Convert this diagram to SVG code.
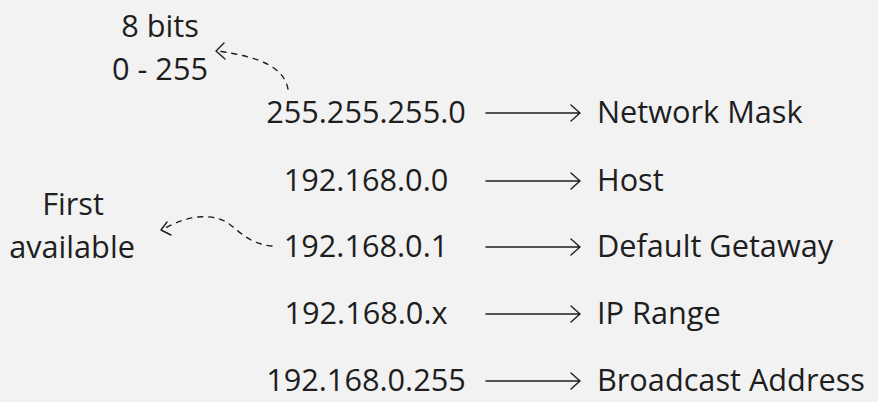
<svg xmlns="http://www.w3.org/2000/svg" width="878" height="402" viewBox="0 0 878 402">
<style>
text{font-family:"Open Sans","Noto Sans",sans-serif;font-size:30.7px;fill:#1e1e1e;dominant-baseline:central}
.l{text-anchor:middle}
.conn path{fill:none;stroke:#1e1e1e;stroke-width:1.4;stroke-linecap:round;stroke-linejoin:round}
.conn .d{stroke-dasharray:5 6}
</style>
<rect width="878" height="402" fill="#f2f2f2"/>
<g id="note-bits"><text class="l" x="160" y="25">8 bits</text><text class="l" x="160" y="68">0 - 255</text></g>
<g id="note-first"><text class="l" x="73" y="203">First</text><text class="l" x="72" y="246">available</text></g>
<g id="n1"><text class="l" x="366" y="111">255.255.255.0</text><text x="597" y="111">Network Mask</text></g>
<g id="n2"><text class="l" x="366" y="179">192.168.0.0</text><text x="597" y="179">Host</text></g>
<g id="n3"><text class="l" x="366" y="245">192.168.0.1</text><text x="597" y="245">Default Getaway</text></g>
<g id="n4"><text class="l" x="366" y="312">192.168.0.x</text><text x="597" y="312">IP Range</text></g>
<g id="n5"><text class="l" x="366" y="379">192.168.0.255</text><text x="597" y="379">Broadcast Address</text></g>
<g class="conn">
<path d="M486 113H579M571 105L580 113L571 121"/>
<path d="M486 181H579M571 173L580 181L571 189"/>
<path d="M486 247H579M571 239L580 247L571 255"/>
<path d="M486 314H579M571 306L580 314L571 322"/>
<path d="M486 381H579M571 373L580 381L571 389"/>
<path class="d" d="M288 89C284 68 262 57 217 51"/>
<path d="M224 43L216 51L225 59"/>
<path class="d" d="M272 246C250 244 240 232 228 223C210 212 185 216 162 230"/>
<path d="M167 222L161 230L171 235"/>
</g>
</svg>
